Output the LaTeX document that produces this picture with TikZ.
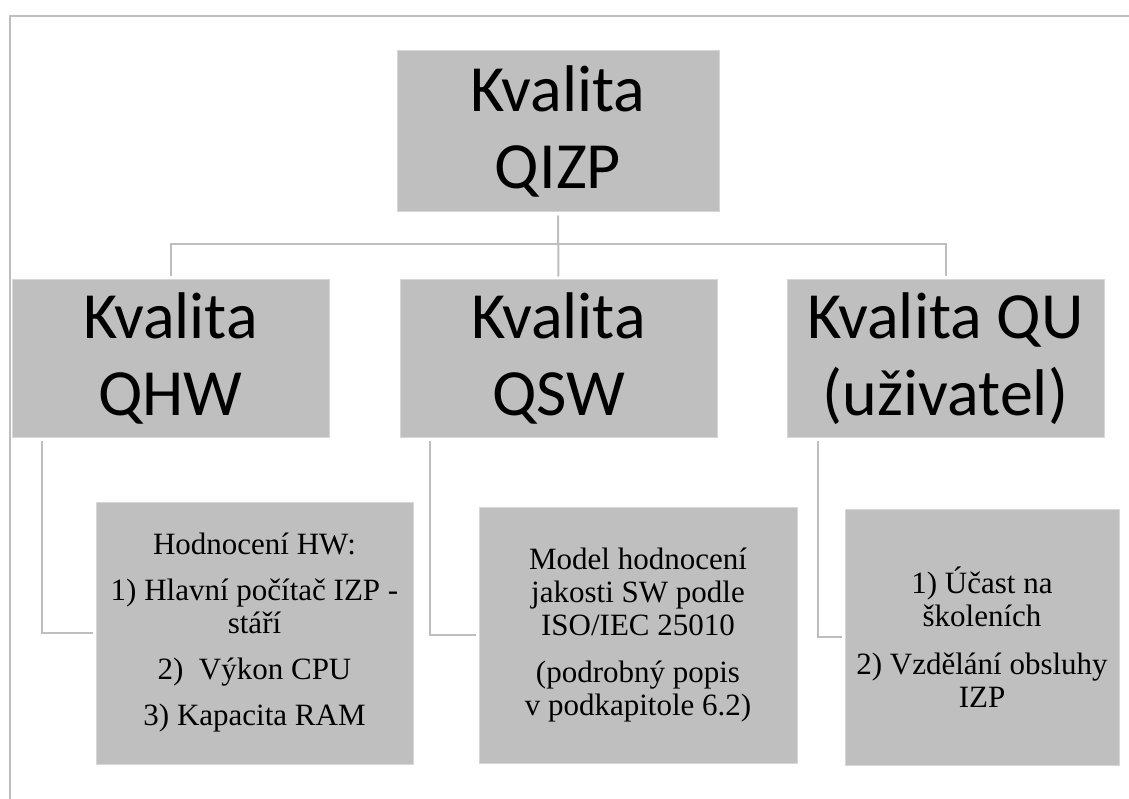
\documentclass[tikz,border=0pt]{standalone}
\usepackage{fontspec}
\setmainfont{Liberation Serif}
\newfontfamily\headfont{Carlito}
\definecolor{boxgray}{RGB}{191,191,191}
\definecolor{edgegray}{RGB}{214,214,214}
\definecolor{linegray}{RGB}{190,190,190}
\begin{document}
\begin{tikzpicture}[x=1pt, y=-1pt,
    head/.style={fill=boxgray, draw=edgegray, line width=1pt, inner sep=0pt,
                 align=center, font=\headfont\fontsize{66pt}{77pt}\selectfont},
    item/.style={fill=boxgray, draw=edgegray, line width=1pt, inner sep=0pt,
                 align=center, font=\fontsize{31pt}{33pt}\selectfont},
    conn/.style={draw=linegray, line width=2pt, shorten <=3pt, shorten >=3pt},
]
\useasboundingbox (0,0) rectangle (1129,799);
% outer frame (only top and left edge visible)
\draw[linegray, line width=2pt] (10,799) -- (10,16) -- (1129,16);

\node[head, minimum width=322pt, minimum height=161pt] (qizp) at (558,131.5) {Kvalita\\QIZP};

\node[head, minimum width=317pt, minimum height=157pt] (qhw) at (170.5,358.5) {Kvalita\\QHW};
\node[head, minimum width=317pt, minimum height=157pt] (qsw) at (558.5,358.5) {Kvalita\\QSW};
\node[head, minimum width=317pt, minimum height=157pt] (qu)  at (945.5,358.5) {Kvalita QU\\(uživatel)};

\node[item, minimum width=317pt, minimum height=262pt] (hw) at (254.5,633)
    {Hodnocení HW:\\[13pt]1) Hlavní počítač IZP -\\stáří\\[13pt]2)\enspace Výkon CPU\\[13pt]3) Kapacita RAM};
\node[item, minimum width=318pt, minimum height=256pt] (sw) at (638,635)
    {Model hodnocení\\jakosti SW podle\\ISO/IEC 25010\\[14pt](podrobný popis\\v podkapitole 6.2)};
\node[item, minimum width=274pt, minimum height=256pt] (uq) at (982,637)
    {1) Účast na\\školeních\\[15pt]2) Vzdělání obsluhy\\IZP};

\draw[conn] (qizp.south) -- (qsw.north);
\draw[conn] (qhw.north) -- ++(0,-35) -| (qu.north);
\draw[conn] ([xshift=30pt]qhw.south west) |- (hw.west);
\draw[conn] ([xshift=30pt]qsw.south west) |- (sw.west);
\draw[conn] ([xshift=31pt]qu.south west) |- (uq.west);
\end{tikzpicture}
\end{document}
